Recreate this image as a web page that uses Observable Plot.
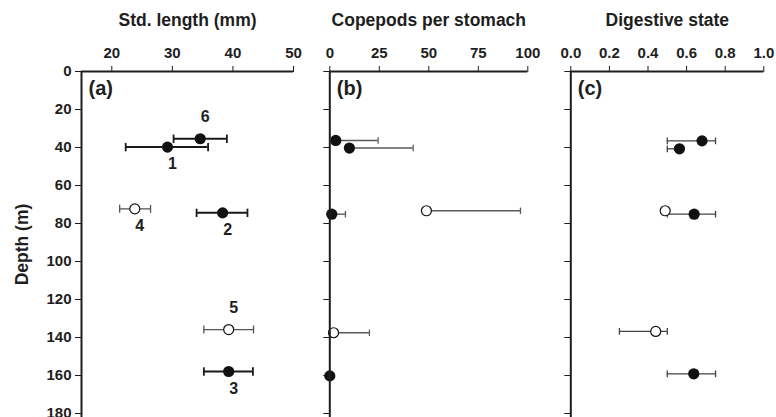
<!DOCTYPE html>
<html><head><meta charset="utf-8">
<script src="https://cdn.jsdelivr.net/npm/d3@7"></script>
<script src="https://cdn.jsdelivr.net/npm/@observablehq/plot@0.6"></script>
<style>
body{margin:0;background:#fff;}
#chart{position:relative;width:776px;height:417px;overflow:hidden;}
#chart svg{position:absolute;top:0;max-width:none;}
</style></head><body><div id="chart"></div>
<script>
// ---- data ----
const fishId = [6, 1, 4, 2, 5, 3];
const fed = [true, true, false, true, false, true];
// (a) standard length
const depthA = [35.4, 39.8, 72.3, 74.4, 135.8, 157.9];
const lengthMean = [34.6, 29.2, 23.8, 38.3, 39.3, 39.3];
const lengthMin = [30.2, 22.3, 21.3, 34.0, 35.2, 35.2];
const lengthMax = [39.0, 35.9, 26.4, 42.4, 43.4, 43.3];
// (b) copepods per stomach
const depthB = [36.3, 40.3, 73.3, 75.1, 137.5, 160.2];
const copepodMean = [3.0, 9.9, 48.8, 1.0, 1.9, 0];
const copepodMax = [24.4, 42.1, 96.3, 7.9, 20.0, null];
// (c) digestive state
const depthC = [36.5, 40.7, 73.3, 75.1, 136.8, 159.1];
const digestMean = [0.68, 0.563, 0.489, 0.639, 0.44, 0.637];
const digestMin = [0.50, 0.50, null, 0.50, 0.252, 0.50];
const digestMax = [0.75, null, null, 0.75, 0.50, 0.75];
// ticks
const depthTicks = [0, 20, 40, 60, 80, 100, 120, 140, 160, 180];
const lengthTicks = [20, 30, 40, 50];
const copepodTicks = [0, 25, 50, 75, 100];
const digestTicks = [0, 0.2, 0.4, 0.6, 0.8, 1.0];
const labelsAbove = [6, 5];

const FONT = '"Liberation Sans", Arial, Helvetica, sans-serif';
const INK = "#1e1e1e";
const chart = document.getElementById("chart");

const rowsA = fishId.map((id, i) => ({id, fed: fed[i], depth: depthA[i], mean: lengthMean[i], min: lengthMin[i], max: lengthMax[i]}));
const rowsB = fishId.map((id, i) => ({id, fed: fed[i], depth: depthB[i], mean: copepodMean[i], max: copepodMax[i]}));
const rowsC = fishId.map((id, i) => ({id, fed: fed[i], depth: depthC[i], mean: digestMean[i], min: digestMin[i], max: digestMax[i]}));

const cap = {draw(ctx, size) { const r = Math.sqrt(size / Math.PI); ctx.moveTo(0, -r); ctx.lineTo(0, r); }};

function points(rows) {
  return [
    Plot.dot(rows, {filter: d => d.fed, x: "mean", y: "depth", r: 5.6, fill: "#111"}),
    Plot.dot(rows, {filter: d => !d.fed, x: "mean", y: "depth", r: 5, fill: "white", stroke: "#111", strokeWidth: 1.2})
  ];
}

function panel({left, width, ml, mr, domain, ticks, fmt, title, tag, yLabels, marks}) {
  const svg = Plot.plot({
    width, height: 417, marginTop: 71, marginBottom: 0, marginLeft: ml, marginRight: mr,
    style: {background: "transparent", overflow: "visible", fontFamily: FONT, fontSize: "15px", fontWeight: "bold", color: INK},
    x: {domain, axis: "top", ticks, tickFormat: fmt, tickSize: 6, tickPadding: 8, label: null},
    y: {domain: [0, 182.1], reverse: true, ticks: depthTicks, tickSize: 6, tickPadding: 4,
        tickFormat: yLabels ? (d => d) : (() => ""), label: null},
    marks: [
      ...marks,
      Plot.ruleY([0], {stroke: INK, strokeWidth: 2}),
      Plot.ruleX([domain[0]], {stroke: INK, strokeWidth: 2}),
      Plot.text([title], {text: d => d, frameAnchor: "top", dy: -51, lineAnchor: "middle", fontSize: 17.5, fontWeight: "bold", fill: INK}),
      Plot.text([tag], {text: d => d, frameAnchor: "top-left", dx: 7, dy: 9, lineAnchor: "top", fontSize: 20, fontWeight: "bold", fill: INK})
    ]
  });
  svg.style.left = left + "px";
  chart.append(svg);
}

// (a)
panel({
  left: 0, width: 300, ml: 81, mr: 7, domain: [15, 50], ticks: lengthTicks, fmt: d => d,
  title: "Std. length (mm)", tag: "(a)", yLabels: true,
  marks: [
    Plot.text(["Depth (m)"], {text: d => d, frameAnchor: "left", dx: -59, textAnchor: "middle", lineAnchor: "middle", rotate: -90, fontSize: 17.5, fontWeight: "bold", fill: INK}),
    Plot.ruleY(rowsA, {filter: d => d.fed, y: "depth", x1: "min", x2: "max", stroke: "#1a1a1a", strokeWidth: 2}),
    Plot.ruleY(rowsA, {filter: d => !d.fed, y: "depth", x1: "min", x2: "max", stroke: "#555", strokeWidth: 1.3}),
    Plot.dot(rowsA, {filter: d => d.fed, x: "min", y: "depth", symbol: cap, r: 4.2, stroke: "#1a1a1a", strokeWidth: 1.8}),
    Plot.dot(rowsA, {filter: d => d.fed, x: "max", y: "depth", symbol: cap, r: 4.2, stroke: "#1a1a1a", strokeWidth: 1.8}),
    Plot.dot(rowsA, {filter: d => !d.fed, x: "min", y: "depth", symbol: cap, r: 4, stroke: "#555", strokeWidth: 1.3}),
    Plot.dot(rowsA, {filter: d => !d.fed, x: "max", y: "depth", symbol: cap, r: 4, stroke: "#555", strokeWidth: 1.3}),
    ...points(rowsA),
    Plot.text(rowsA, {filter: d => labelsAbove.includes(d.id), x: "mean", y: "depth", text: d => String(d.id), dx: 5, dy: -22, fontSize: 16, fontWeight: "bold", fill: INK}),
    Plot.text(rowsA, {filter: d => !labelsAbove.includes(d.id), x: "mean", y: "depth", text: d => String(d.id), dx: 5, dy: 17, fontSize: 16, fontWeight: "bold", fill: INK})
  ]
});

// (b)
panel({
  left: 300, width: 240, ml: 29.3, mr: 12.7, domain: [0, 100], ticks: copepodTicks, fmt: d => d,
  title: "Copepods per stomach", tag: "(b)", yLabels: false,
  marks: [
    Plot.ruleY(rowsB, {filter: d => d.max != null, y: "depth", x1: "mean", x2: "max", stroke: "#5a5a5a", strokeWidth: 1.4}),
    Plot.dot(rowsB, {x: "max", y: "depth", symbol: cap, r: 3.2, stroke: "#5a5a5a", strokeWidth: 1.3}),
    ...points(rowsB)
  ]
});

// (c)
panel({
  left: 540, width: 236, ml: 30.3, mr: 12.7, domain: [0, 1], ticks: digestTicks, fmt: d3.format(".1f"),
  title: "Digestive state", tag: "(c)", yLabels: false,
  marks: [
    Plot.ruleY(rowsC, {filter: d => d.min != null, y: "depth", x1: "min", x2: d => d.max ?? d.mean, stroke: "#444", strokeWidth: 1.3}),
    Plot.dot(rowsC, {x: "min", y: "depth", symbol: cap, r: 3.4, stroke: "#444", strokeWidth: 1.3}),
    Plot.dot(rowsC, {x: "max", y: "depth", symbol: cap, r: 3.4, stroke: "#444", strokeWidth: 1.3}),
    ...points(rowsC)
  ]
});
</script></body></html>
